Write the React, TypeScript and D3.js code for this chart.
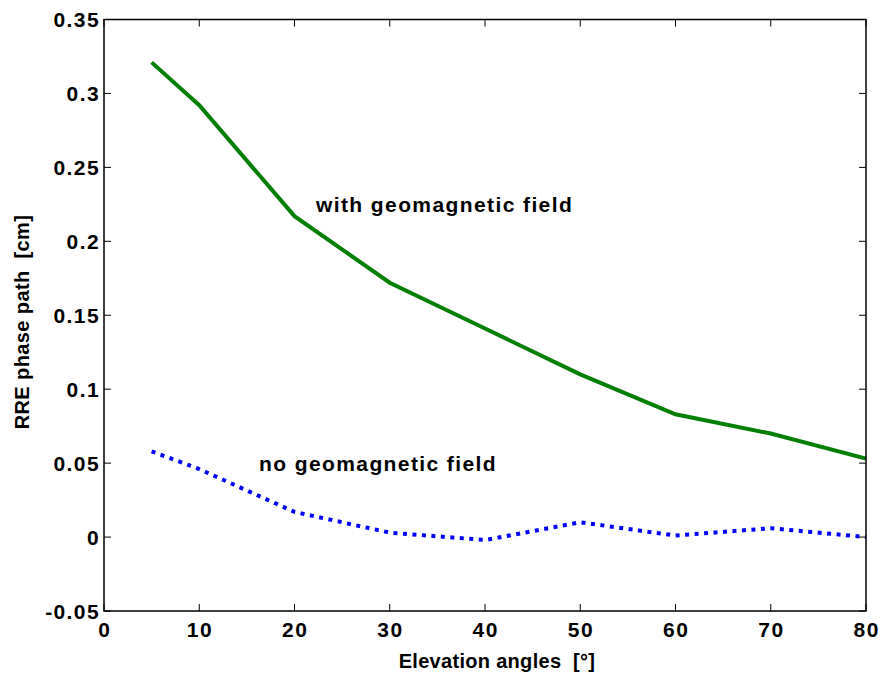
import React from 'react';
import * as d3 from 'd3';

const angles = [5, 10, 20, 30, 40, 50, 60, 70, 80];
const withField = [0.321, 0.292, 0.217, 0.172, 0.141, 0.110, 0.083, 0.070, 0.053];
const noField = [0.058, 0.046, 0.017, 0.003, -0.002, 0.010, 0.001, 0.006, 0.0];
const xTicks = [0, 10, 20, 30, 40, 50, 60, 70, 80];
const yTicks = [-0.05, 0, 0.05, 0.1, 0.15, 0.2, 0.25, 0.3, 0.35];

const W = 880;
const H = 677;
const margin = { top: 19.5, right: 14, bottom: 66, left: 104 };

export default function App() {
  const x = d3.scaleLinear().domain([0, 80]).range([margin.left, W - margin.right]);
  const y = d3.scaleLinear().domain([-0.05, 0.35]).range([H - margin.bottom, margin.top]);

  const line = d3
    .line<number>()
    .x((_, i) => x(angles[i]))
    .y((d) => y(d));

  const font = 'Arial, "Liberation Sans", sans-serif';
  const x0 = x(0), x1 = x(80), y0 = y(-0.05), y1 = y(0.35);
  // plain hyphen for negatives, like the original
  const fmt = (t: number) => d3.format('~g')(t).replace('\u2212', '-');

  return (
    <svg
      width={W}
      height={H}
      style={{ position: 'absolute', left: 0, top: 0, background: '#fff' }}
      fontFamily={font}
      fontWeight="bold"
    >
      <rect x={0} y={0} width={W} height={H} fill="#fff" />
      {/* lines */}
      <path d={line(withField) || ''} fill="none" stroke="#007f00" strokeWidth={4} />
      <path
        d={line(noField) || ''}
        fill="none"
        stroke="#0000ff"
        strokeWidth={4}
        strokeDasharray="4,5.5"
      />

      {/* frame */}
      <rect x={x0} y={y1} width={x1 - x0} height={y0 - y1} fill="none" stroke="#000" strokeWidth={1.5} />

      {/* x ticks */}
      {xTicks.map((t) => (
        <g key={'x' + t}>
          <line x1={x(t)} x2={x(t)} y1={y0} y2={y0 - 7} stroke="#000" strokeWidth={1} />
          <line x1={x(t)} x2={x(t)} y1={y1} y2={y1 + 7} stroke="#000" strokeWidth={1} />
          <text x={x(t) + 0.7} y={y0 + 26} textAnchor="middle" fontSize={21} letterSpacing={1.4}>
            {t}
          </text>
        </g>
      ))}

      {/* y ticks */}
      {yTicks.map((t) => (
        <g key={'y' + t}>
          <line x1={x0} x2={x0 + 7} y1={y(t)} y2={y(t)} stroke="#000" strokeWidth={1} />
          <line x1={x1} x2={x1 - 7} y1={y(t)} y2={y(t)} stroke="#000" strokeWidth={1} />
          <text x={x0 - 4} y={y(t) + 7.5} textAnchor="end" fontSize={21} letterSpacing={1.4}>
            {fmt(t)}
          </text>
        </g>
      ))}

      {/* annotations */}
      <text x={316} y={212} fontSize={21} letterSpacing={1.4}>with geomagnetic field</text>
      <text x={259} y={471} fontSize={21} letterSpacing={1.4}>no geomagnetic field</text>

      {/* axis titles */}
      <text x={497} y={668} textAnchor="middle" fontSize={20} letterSpacing={0.3} style={{ whiteSpace: 'pre' }}>
        Elevation angles  [°]
      </text>
      <text
        transform={`translate(28.5,322) rotate(-90)`}
        textAnchor="middle"
        fontSize={20}
        letterSpacing={0.4}
        style={{ whiteSpace: 'pre' }}
      >
        RRE phase path  [cm]
      </text>
    </svg>
  );
}
